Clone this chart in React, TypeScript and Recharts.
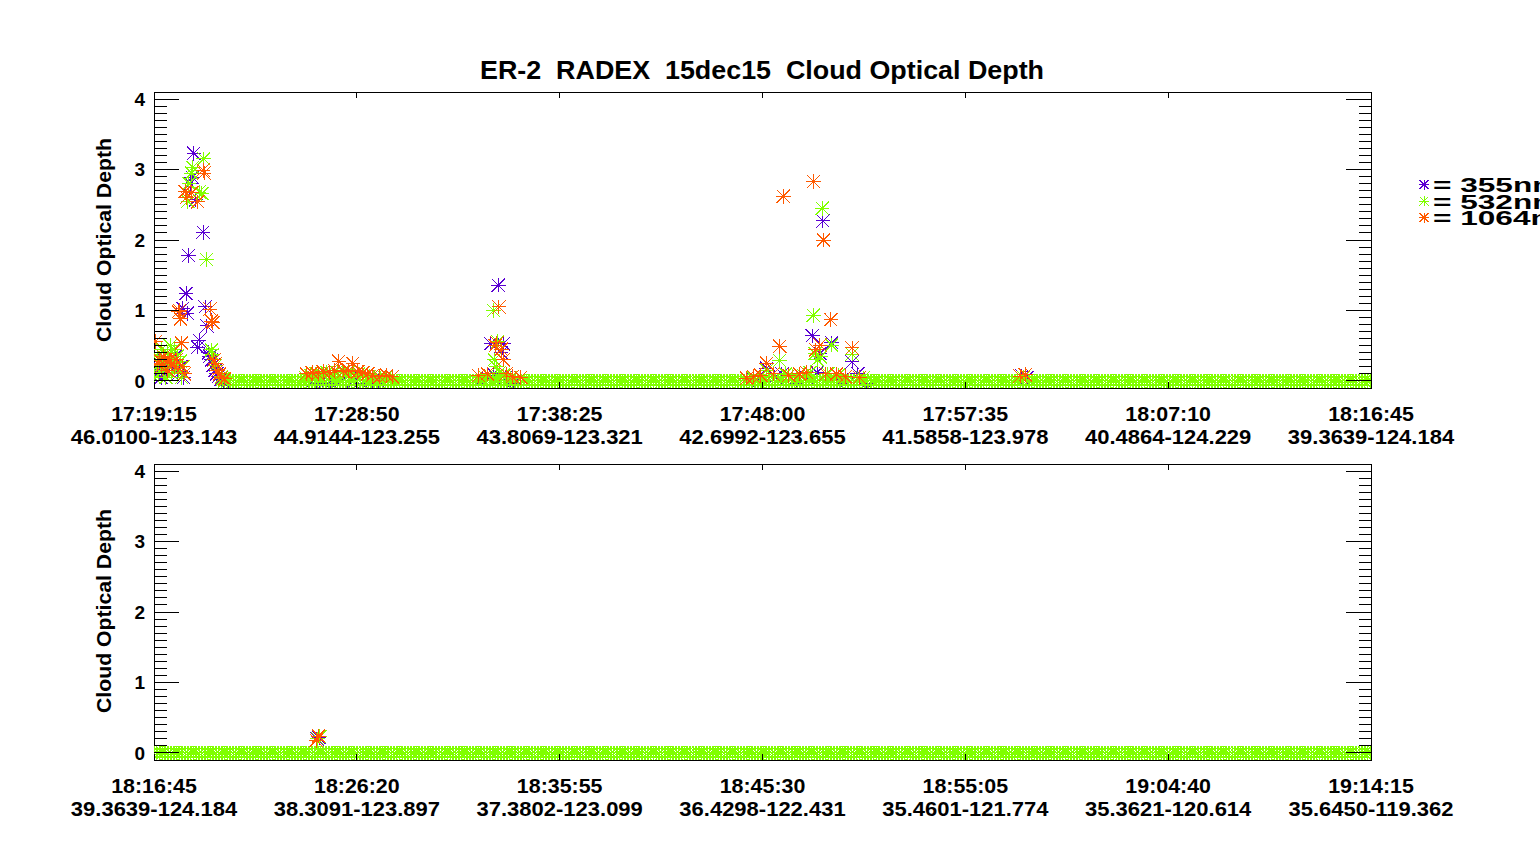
import React from 'react';
import { ScatterChart, Scatter, XAxis, YAxis, ReferenceArea } from 'recharts';

const C355 = '#5a00d2';
const C532 = '#80ff00';
const C1064 = '#ff5a00';

// x axis: seconds elapsed from the start of each panel
const SPAN = 3450;
const TICK_SEC = [0, 575, 1150, 1725, 2300, 2875, 3450];
const TOP_TICK_TIME = ['17:19:15', '17:28:50', '17:38:25', '17:48:00', '17:57:35', '18:07:10', '18:16:45'];
const TOP_TICK_POS = ['46.0100-123.143', '44.9144-123.255', '43.8069-123.321', '42.6992-123.655', '41.5858-123.978', '40.4864-124.229', '39.3639-124.184'];
const BOT_TICK_TIME = ['18:16:45', '18:26:20', '18:35:55', '18:45:30', '18:55:05', '19:04:40', '19:14:15'];
const BOT_TICK_POS = ['39.3639-124.184', '38.3091-123.897', '37.3802-123.099', '36.4298-122.431', '35.4601-121.774', '35.3621-120.614', '35.6450-119.362'];

const Y_MAJOR = [0, 1, 2, 3, 4];
const Y_MINOR_STEPS = 10;
const Y_DOMAIN: [number, number] = [-0.1, 4.1];

// 532 nm reports zero optical depth in clear air, at the instrument cadence
const CADENCE = 8;
const TOP_CLEAR_532: [number, number][] = [[200, 3450]];
const BOT_CLEAR_532: [number, number][] = [[0, 3450]];

// [seconds, optical depth]
const TOP_355 = [
  [4, 0.1], [12, 0.2], [20, 0.05], [28, 0.3], [36, 0.15], [44, 0.25], [52, 0.2], [60, 0.35], [68, 0.1], [76, 0.2],
  [82, 1.03], [84, 0.05], [91, 1.24], [94, 0.96], [98, 1.78], [104, 2.8], [108, 2.89], [113, 3.23], [118, 2.57],
  [124, 0.48], [128, 0.58], [139, 2.11], [145, 1.05], [150, 0.78], [155, 0.4], [158, 0.35], [163, 0.3], [168, 0.22],
  [173, 0.15], [178, 0.1], [183, 0.06], [190, 0.02], [198, -0.02],
  [440, -0.05], [470, -0.04], [500, -0.03], [530, 0.0], [555, -0.05], [570, 0.02], [590, -0.04], [620, 0.01], [650, -0.02],
  [930, 0.03], [955, 0.53], [962, 0.1], [976, 1.36], [984, 0.4], [990, 0.53], [996, 0.05], [1005, 0.02], [1020, -0.03],
  [1700, 0.02], [1737, 0.18], [1760, 0.05], [1780, 0.1], [1820, -0.03], [1850, 0.05], [1866, 0.64], [1880, 0.12],
  [1888, 0.39], [1896, 2.27], [1921, 0.54], [1950, 0.02], [1979, 0.27], [1995, 0.1], [2020, -0.03],
  [2460, 0.07], [2475, 0.05],
];

const TOP_532 = [
  [2, 0.05], [6, 0.2], [10, 0.35], [14, 0.1], [18, 0.25], [22, 0.45], [26, 0.15], [30, 0.3], [34, 0.05], [38, 0.4],
  [42, 0.2], [46, 0.5], [50, 0.1], [54, 0.3], [58, 0.45], [62, 0.2], [66, 0.35], [70, 0.15], [74, 0.28], [78, 0.05],
  [82, 0.2], [86, 0.1],
  [96, 2.55], [99, 2.8], [106, 2.95], [110, 3.03], [128, 2.68], [136, 2.66], [141, 3.15], [149, 1.72],
  [163, 0.44], [166, 0.38], [170, 0.3], [175, 0.22], [180, 0.15], [185, 0.1], [190, 0.06], [195, 0.03],
  [430, 0.05], [445, 0.08], [460, 0.1], [475, 0.1], [490, 0.12], [505, 0.1], [520, 0.12], [535, 0.13], [550, 0.12],
  [565, 0.1], [580, 0.1], [595, 0.08], [610, 0.06], [625, 0.05], [640, 0.04], [655, 0.05], [670, 0.03],
  [940, 0.05], [962, 1.0], [965, 0.3], [970, 0.2], [974, 0.56], [980, 0.12], [990, 0.08], [1010, 0.04],
  [1700, 0.04], [1720, 0.08], [1737, 0.15], [1774, 0.29], [1790, 0.1], [1810, 0.06], [1840, 0.08], [1860, 0.12],
  [1869, 0.93], [1874, 0.39], [1880, 0.3], [1890, 0.34], [1894, 2.45], [1910, 0.1], [1921, 0.51], [1940, 0.08],
  [1960, 0.06], [1979, 0.38], [2010, 0.04],
  [2465, 0.05],
];

const TOP_1064 = [
  [5, 0.56], [9, 0.25], [15, 0.3], [21, 0.2], [27, 0.35], [33, 0.3], [39, 0.15], [45, 0.3], [51, 0.25], [57, 0.2],
  [63, 0.3], [69, 0.98], [72, 1.0], [75, 0.88], [78, 0.54], [80, 0.2], [86, 0.1], [88, 2.69], [92, 2.6], [107, 2.67],
  [124, 2.54], [139, 2.99], [142, 2.95], [159, 1.02], [163, 0.85], [167, 0.83], [170, 0.3], [175, 0.25], [180, 0.15],
  [186, 0.1], [192, 0.05], [200, 0.03],
  [432, 0.1], [448, 0.12], [465, 0.1], [480, 0.13], [497, 0.12], [512, 0.15], [524, 0.28], [538, 0.14], [552, 0.15],
  [564, 0.25], [578, 0.13], [592, 0.12], [606, 0.1], [620, 0.08], [640, 0.06], [660, 0.08], [675, 0.06],
  [920, 0.08], [945, 0.1], [967, 0.5], [972, 0.54], [978, 1.05], [985, 0.45], [990, 0.3], [998, 0.1], [1015, 0.06], [1040, 0.05],
  [1680, 0.04], [1700, 0.06], [1720, 0.08], [1737, 0.25], [1755, 0.1], [1774, 0.49], [1784, 2.62], [1800, 0.08],
  [1830, 0.1], [1850, 0.12], [1869, 2.83], [1876, 0.44], [1888, 0.51], [1898, 2.0], [1905, 0.1], [1919, 0.87],
  [1935, 0.1], [1960, 0.06], [1979, 0.47], [2000, 0.05],
  [2455, 0.07], [2470, 0.09],
];

const BOT_355 = [[462, 0.2], [468, 0.22]];
const BOT_532 = [[464, 0.2], [470, 0.23]];
const BOT_1064 = [[460, 0.18], [466, 0.24]];

// layout
const CHART_W = 1540;
const CHART_H = 460;
const MARGIN = { top: 92, right: 169, bottom: 22, left: 114 };
const Y_AXIS_W = 40;
const X_AXIS_H = 50;
const PLOT_W = CHART_W - MARGIN.left - MARGIN.right - Y_AXIS_W;
const PLOT_H = CHART_H - MARGIN.top - MARGIN.bottom - X_AXIS_H;
const FONT = '"Liberation Sans", Arial, Helvetica, sans-serif';

const Y_TICKS = Y_MAJOR.flatMap((m, i) =>
  i === Y_MAJOR.length - 1
    ? [m]
    : Array.from({ length: Y_MINOR_STEPS }, (_, k) => Math.round((m + k / Y_MINOR_STEPS) * 100) / 100)
);

const toPoints = (pairs: number[][]) => pairs.map(([t, v]) => ({ t, v }));

const clearRuns = (runs: [number, number][]) =>
  runs.flatMap(([a, b]) => {
    const out: number[][] = [];
    for (let t = a; t <= b; t += CADENCE) out.push([t, 0]);
    return out;
  });

function starPath(cx: number, cy: number, r: number, d: number) {
  return `M${cx - r} ${cy}H${cx + r}M${cx} ${cy - r}V${cy + r}` +
    `M${cx - d} ${cy - d}L${cx + d} ${cy + d}M${cx - d} ${cy + d}L${cx + d} ${cy - d}`;
}

const starShape = (color: string) => (props: any) => {
  const { cx, cy } = props;
  if (cx == null || cy == null) return <g />;
  return <path d={starPath(cx, cy, 7.3, 6.6)} stroke={color} strokeWidth={1} fill="none" shapeRendering="crispEdges" />;
};

function YTick(props: any) {
  const { x, y, payload } = props;
  const v = payload.value;
  const major = Math.abs(v - Math.round(v)) < 1e-6;
  const len = major ? 25 : 12.5;
  return (
    <g shapeRendering="crispEdges">
      <line x1={x} y1={y} x2={x + len} y2={y} stroke="#000" />
      <line x1={x + PLOT_W - len} y1={y} x2={x + PLOT_W} y2={y} stroke="#000" />
      {major && (
        <text x={x - 9} y={y} dy="0.36em" textAnchor="end" fontFamily={FONT} fontWeight="bold" fontSize={19} fill="#000">
          {Math.round(v)}
        </text>
      )}
    </g>
  );
}

const makeXTick = (times: string[], pos: string[]) => (props: any) => {
  const { x, y, payload } = props;
  const i = TICK_SEC.indexOf(payload.value);
  const lbl = { textAnchor: 'middle' as const, fontFamily: FONT, fontWeight: 'bold' as const, fontSize: 20, fill: '#000' };
  return (
    <g>
      <g shapeRendering="crispEdges">
        <line x1={x} y1={y} x2={x} y2={y - 6} stroke="#000" />
        <line x1={x} y1={y - PLOT_H} x2={x} y2={y - PLOT_H + 6} stroke="#000" />
      </g>
      <text transform={`translate(${x},${y + 33}) scale(1.07,1)`} {...lbl}>
        {times[i]}
      </text>
      <text transform={`translate(${x},${y + 56}) scale(1.1,1)`} {...lbl}>
        {pos[i]}
      </text>
    </g>
  );
};

function Panel({ top, d355, d532, d1064, times, pos }: any) {
  return (
    <div style={{ position: 'absolute', left: 0, top, width: CHART_W, height: CHART_H }}>
      <ScatterChart width={CHART_W} height={CHART_H} margin={MARGIN}>
        <XAxis
          type="number"
          dataKey="t"
          domain={[0, SPAN]}
          allowDataOverflow
          ticks={TICK_SEC}
          interval={0}
          height={X_AXIS_H}
          tickSize={0}
          tickMargin={0}
          axisLine={false}
          tick={makeXTick(times, pos)}
        />
        <YAxis
          type="number"
          dataKey="v"
          domain={Y_DOMAIN}
          allowDataOverflow
          ticks={Y_TICKS}
          interval={0}
          width={Y_AXIS_W}
          tickSize={0}
          tickMargin={0}
          axisLine={false}
          tick={YTick}
        />
        <ReferenceArea
          x1={0}
          x2={SPAN}
          y1={Y_DOMAIN[0]}
          y2={Y_DOMAIN[1]}
          fill="none"
          stroke="#000"
          strokeWidth={1}
          shapeRendering="crispEdges"
          ifOverflow="visible"
        />
        <Scatter data={toPoints(d355)} fill={C355} shape={starShape(C355)} isAnimationActive={false} />
        <Scatter data={toPoints(d532)} fill={C532} shape={starShape(C532)} isAnimationActive={false} />
        <Scatter data={toPoints(d1064)} fill={C1064} shape={starShape(C1064)} isAnimationActive={false} />
      </ScatterChart>
    </div>
  );
}

const LEGEND = [
  { label: '355nm', color: C355 },
  { label: '532nm', color: C532 },
  { label: '1064nm', color: C1064 },
];

export default function App() {
  const txt = { fontFamily: FONT, fontWeight: 'bold' as const, fill: '#000' };
  return (
    <div style={{ position: 'absolute', left: 0, top: 0, width: 1540, height: 845, overflow: 'hidden', background: '#fff' }}>
      <Panel
        top={0}
        d355={TOP_355}
        d532={[...clearRuns(TOP_CLEAR_532), ...TOP_532]}
        d1064={TOP_1064}
        times={TOP_TICK_TIME}
        pos={TOP_TICK_POS}
      />
      <Panel
        top={372}
        d355={BOT_355}
        d532={[...clearRuns(BOT_CLEAR_532), ...BOT_532]}
        d1064={BOT_1064}
        times={BOT_TICK_TIME}
        pos={BOT_TICK_POS}
      />
      <svg width={1540} height={845} style={{ position: 'absolute', left: 0, top: 0, pointerEvents: 'none' }}>
        <text x={480} y={79} fontSize={26} textLength={564} lengthAdjust="spacingAndGlyphs" xmlSpace="preserve" style={{ whiteSpace: 'pre' }} {...txt}>
          {'ER-2  RADEX  15dec15  Cloud Optical Depth'}
        </text>
        <text transform="translate(103,240) rotate(-90)" textAnchor="middle" dy="0.36em" fontSize={21} textLength={204} lengthAdjust="spacingAndGlyphs" {...txt}>
          Cloud Optical Depth
        </text>
        <text transform="translate(103,611) rotate(-90)" textAnchor="middle" dy="0.36em" fontSize={21} textLength={204} lengthAdjust="spacingAndGlyphs" {...txt}>
          Cloud Optical Depth
        </text>
        {LEGEND.map((l, i) => (
          <g key={l.label}>
            <path d={starPath(1424, 184.5 + i * 16.6, 5, 4.5)} stroke={l.color} strokeWidth={1} fill="none" shapeRendering="crispEdges" />
            <text transform={`translate(1433,${192 + i * 16.6}) scale(1.58,1.05)`} fontSize={20} xmlSpace="preserve" style={{ whiteSpace: 'pre' }} {...txt}>
              {`= ${l.label}`}
            </text>
          </g>
        ))}
      </svg>
    </div>
  );
}
